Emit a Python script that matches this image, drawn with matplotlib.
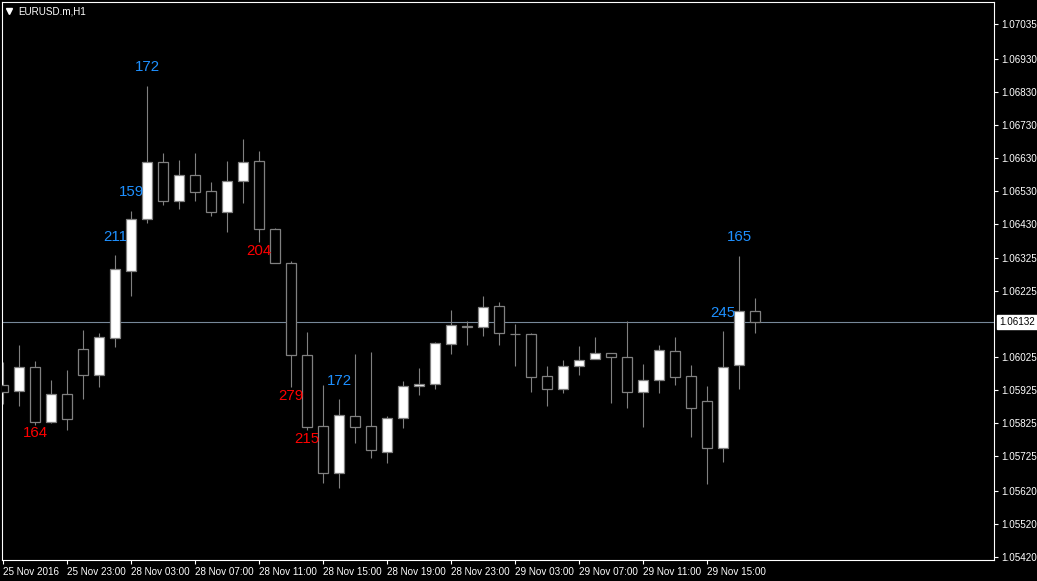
import matplotlib
matplotlib.use('Agg')
import matplotlib.pyplot as plt
from matplotlib.lines import Line2D
from matplotlib.transforms import blended_transform_factory, offset_copy

plt.rcParams['font.family'] = ['Liberation Sans', 'DejaVu Sans']

# ---- data (EURUSD.m, H1), bar 0 = 25 Nov 2016 19:00 ----
opens = [1.05941, 1.05922, 1.05995, 1.05830, 1.05913, 1.06049, 1.05972, 1.06083,
         1.06286, 1.06443, 1.06616, 1.06500, 1.06577, 1.06528, 1.06466, 1.06558,
         1.06619, 1.06413, 1.06310, 1.06031, 1.05816, 1.05675, 1.05846, 1.05816,
         1.05739, 1.05840, 1.05937, 1.05943, 1.06064, 1.06120, 1.06116, 1.06180,
         1.06097, 1.06095, 1.05967, 1.05928, 1.05998, 1.06019, 1.06037, 1.06025,
         1.05921, 1.05955, 1.06043, 1.05967, 1.05892, 1.05751, 1.06001, 1.06164]
highs = [1.06012, 1.06062, 1.06014, 1.05956, 1.05987, 1.06108, 1.06100, 1.06335,
         1.06467, 1.06847, 1.06643, 1.06623, 1.06643, 1.06556, 1.06620, 1.06686,
         1.06650, 1.06416, 1.06316, 1.06101, 1.05940, 1.05899, 1.06035, 1.06041,
         1.05846, 1.05953, 1.05993, 1.06070, 1.06168, 1.06134, 1.06211, 1.06192,
         1.06127, 1.06098, 1.05999, 1.06017, 1.06059, 1.06087, 1.06037, 1.06135,
         1.06005, 1.06062, 1.06087, 1.06002, 1.05938, 1.06105, 1.06332, 1.06205]
lows = [1.05884, 1.05877, 1.05820, 1.05827, 1.05805, 1.05899, 1.05935, 1.06057,
        1.06211, 1.06433, 1.06487, 1.06475, 1.06500, 1.06454, 1.06406, 1.06494,
        1.06375, 1.06310, 1.05934, 1.05805, 1.05645, 1.05630, 1.05766, 1.05721,
        1.05706, 1.05812, 1.05911, 1.05928, 1.06034, 1.06061, 1.06090, 1.06063,
        1.06000, 1.05921, 1.05878, 1.05918, 1.05971, 1.06019, 1.05887, 1.05872,
        1.05815, 1.05918, 1.05942, 1.05784, 1.05641, 1.05709, 1.05930, 1.06100]
closes = [1.05921, 1.05995, 1.05830, 1.05913, 1.05837, 1.05972, 1.06086, 1.06292,
          1.06443, 1.06616, 1.06500, 1.06577, 1.06527, 1.06466, 1.06558, 1.06616,
          1.06413, 1.06310, 1.06031, 1.05815, 1.05675, 1.05849, 1.05815, 1.05743,
          1.05840, 1.05937, 1.05943, 1.06067, 1.06122, 1.06117, 1.06178, 1.06098,
          1.06096, 1.05966, 1.05928, 1.05998, 1.06016, 1.06037, 1.06025, 1.05921,
          1.05955, 1.06046, 1.05966, 1.05871, 1.05751, 1.05995, 1.06164, 1.06132]

xtick_pos = [0, 4, 8, 12, 16, 20, 24, 28, 32, 36, 40, 44]
xtick_labels = ["25 Nov 2016", "25 Nov 23:00", "28 Nov 03:00", "28 Nov 07:00",
                "28 Nov 11:00", "28 Nov 15:00", "28 Nov 19:00", "28 Nov 23:00",
                "29 Nov 03:00", "29 Nov 07:00", "29 Nov 11:00", "29 Nov 15:00"]
ytick_values = [1.07035, 1.06930, 1.06830, 1.06730, 1.06630, 1.06530, 1.06430,
                1.06325, 1.06225, 1.06025, 1.05925, 1.05825, 1.05725, 1.05620,
                1.05520, 1.05420]
current_price = 1.06132

label_idx = [9, 8, 7, 16, 2, 18, 19, 21, 45, 46]
label_text = ["172", "159", "211", "204", "164", "279", "215", "172", "245", "165"]
label_price = [1.06908, 1.06529, 1.06394, 1.06353, 1.05799, 1.05911, 1.05781,
               1.05959, 1.06165, 1.06393]
label_up = [True, True, True, False, False, False, False, True, True, True]

# ---- figure ----
W, H = 1037, 581
fig = plt.figure(figsize=(W / 100, H / 100), dpi=100, facecolor='black')
ax = fig.add_axes([2 / W, 21 / H, 992 / W, 558 / H])
ax.set_facecolor('black')
ax.set_xlim(-0.081, 61.92)
ax.set_ylim(1.054108, 1.071017)

grey = '#808080'
x = list(range(len(opens)))
ax.axhline(current_price, color='#778899', lw=0.8, zorder=1)
ax.vlines(x, lows, highs, color=grey, lw=0.8, zorder=2)
heights = [c - o for o, c in zip(opens, closes)]
fills = ['white' if c > o else 'black' for o, c in zip(opens, closes)]
ax.bar(x, heights, bottom=opens, width=0.625, color=fills, edgecolor=grey,
       linewidth=0.9, zorder=3)

lab_tr = offset_copy(ax.transData, fig=fig, x=0, y=-1.5, units='dots')
for i, t, p, up in zip(label_idx, label_text, label_price, label_up):
    ax.text(i, p, t, color='#1E90FF' if up else '#FF0000', fontsize=10.8,
            ha='center', va='center', zorder=5, transform=lab_tr)

# axes styling
for s in ax.spines.values():
    s.set_color('white')
    s.set_linewidth(0.8)
ax.yaxis.tick_right()
ax.set_yticks(ytick_values)
ax.set_yticklabels([f"{v:.5f}" for v in ytick_values])
ax.tick_params(axis='y', colors='white', length=3, width=0.8, pad=2.2,
               labelsize=7.1)
ax.set_xticks(xtick_pos)
ax.set_xticklabels(xtick_labels)
ax.tick_params(axis='x', colors='white', length=3, width=0.8, pad=2.2,
               labelsize=7.1)
for lab in ax.get_xticklabels():
    lab.set_ha('left')

# current price box
tr = blended_transform_factory(ax.transAxes, ax.transData)
ax.text(1.0, current_price, "1.06132", transform=offset_copy(tr, fig=fig, x=5, y=0, units='dots'),
        ha='left', va='center', color='black', fontsize=7.1, clip_on=False,
        bbox=dict(boxstyle='square,pad=0.25', facecolor='white', edgecolor='white'))

# title
fig.text(18 / W, 1 - 11 / H, "EURUSD.m,H1", color='white', fontsize=7.1,
         ha='left', va='center')
fig.add_artist(Line2D([9.4 / W], [1 - 10.8 / H], marker='v', color='white',
                      markersize=4.5, transform=fig.transFigure, linestyle='none'))

fig.savefig('out.png', dpi=100, facecolor='black')
